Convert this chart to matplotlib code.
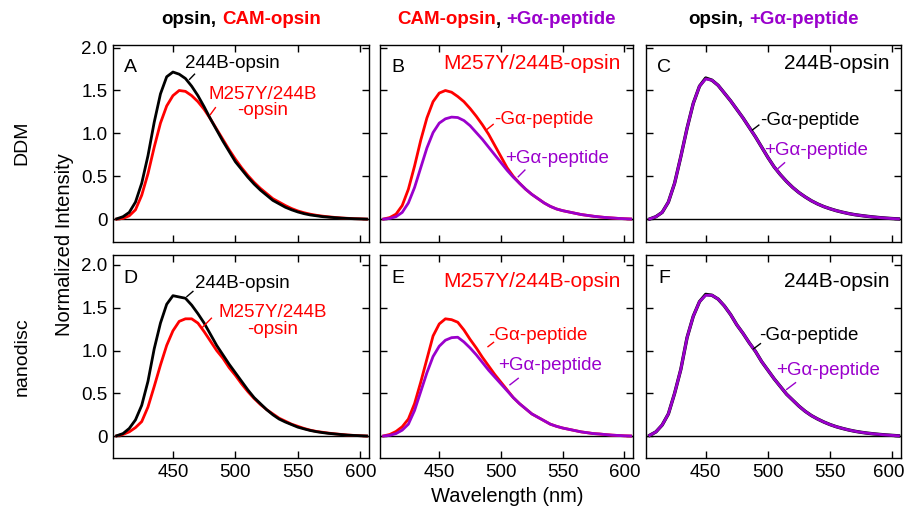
import numpy as np
import matplotlib
matplotlib.use("Agg")
import matplotlib.pyplot as plt
import matplotlib.transforms as mtransforms
from matplotlib.ticker import FixedLocator, FixedFormatter

plt.rcParams["font.family"] = ["Liberation Sans", "DejaVu Sans"]

RED = "#ff0000"
PURPLE = "#9a00cc"

# wavelength grid (nm) the spectra were read on
wavelength = np.arange(405, 606, 5)

# DDM, panel A
ddm_wt = [0.005, 0.03, 0.08, 0.20, 0.42, 0.74, 1.13, 1.46, 1.66, 1.715, 1.69, 1.64, 1.55, 1.44,
          1.31, 1.17, 1.04, 0.91, 0.79, 0.67, 0.58, 0.49, 0.41, 0.34, 0.28, 0.22, 0.18, 0.14, 0.11,
          0.085, 0.065, 0.05, 0.04, 0.03, 0.024, 0.018, 0.013, 0.009, 0.006, 0.004, 0.002]
ddm_cam = [0.002, 0.01, 0.04, 0.11, 0.28, 0.53, 0.84, 1.12, 1.32, 1.44, 1.50, 1.49, 1.44, 1.37,
           1.28, 1.17, 1.05, 0.93, 0.81, 0.70, 0.60, 0.51, 0.43, 0.36, 0.30, 0.24, 0.20, 0.16, 0.125,
           0.097, 0.076, 0.059, 0.046, 0.036, 0.028, 0.021, 0.015, 0.011, 0.007, 0.005, 0.002]
# DDM, panel B
ddm_cam_minus = [0.003, 0.02, 0.06, 0.16, 0.35, 0.62, 0.92, 1.18, 1.37, 1.47, 1.50, 1.48, 1.43, 1.37,
                 1.29, 1.20, 1.10, 0.99, 0.86, 0.73, 0.60, 0.50, 0.42, 0.35, 0.29, 0.24, 0.19, 0.15, 0.12,
                 0.10, 0.085, 0.07, 0.055, 0.045, 0.035, 0.027, 0.02, 0.015, 0.01, 0.006, 0.003]
ddm_cam_plus = [0.002, 0.01, 0.03, 0.08, 0.19, 0.37, 0.60, 0.83, 1.01, 1.12, 1.17, 1.19, 1.185, 1.15,
                1.09, 1.01, 0.93, 0.84, 0.75, 0.66, 0.57, 0.49, 0.42, 0.35, 0.29, 0.24, 0.19, 0.15, 0.12,
                0.10, 0.085, 0.07, 0.055, 0.045, 0.035, 0.027, 0.02, 0.015, 0.01, 0.006, 0.003]
# DDM, panel C
ddm_wt_minus = [0.003, 0.03, 0.08, 0.20, 0.42, 0.73, 1.06, 1.35, 1.55, 1.645, 1.62, 1.56, 1.47, 1.38,
                1.28, 1.18, 1.07, 0.96, 0.84, 0.72, 0.61, 0.52, 0.44, 0.37, 0.31, 0.26, 0.215, 0.178, 0.147,
                0.122, 0.10, 0.082, 0.066, 0.053, 0.043, 0.034, 0.026, 0.019, 0.013, 0.008, 0.004]
ddm_wt_plus = [0.003, 0.03, 0.08, 0.20, 0.42, 0.73, 1.06, 1.35, 1.55, 1.635, 1.62, 1.56, 1.47, 1.38,
               1.28, 1.18, 1.07, 0.96, 0.84, 0.72, 0.61, 0.52, 0.44, 0.37, 0.31, 0.26, 0.215, 0.178, 0.147,
               0.122, 0.10, 0.082, 0.066, 0.053, 0.043, 0.034, 0.026, 0.019, 0.013, 0.008, 0.004]
# nanodisc, panel D
nd_wt = [0.005, 0.03, 0.09, 0.19, 0.36, 0.64, 1.02, 1.32, 1.54, 1.64, 1.625, 1.61, 1.53, 1.43,
         1.32, 1.19, 1.06, 0.95, 0.84, 0.74, 0.64, 0.54, 0.45, 0.38, 0.31, 0.25, 0.20, 0.165, 0.135,
         0.105, 0.085, 0.066, 0.052, 0.041, 0.032, 0.025, 0.018, 0.012, 0.008, 0.005, 0.002]
nd_cam = [0.003, 0.02, 0.05, 0.10, 0.17, 0.34, 0.58, 0.83, 1.06, 1.23, 1.34, 1.37, 1.37, 1.32,
          1.22, 1.11, 1.00, 0.91, 0.80, 0.71, 0.61, 0.52, 0.44, 0.37, 0.31, 0.26, 0.21, 0.175, 0.14,
          0.115, 0.09, 0.07, 0.055, 0.045, 0.035, 0.027, 0.02, 0.013, 0.009, 0.005, 0.002]
# nanodisc, panel E
nd_cam_minus = [0.003, 0.02, 0.055, 0.11, 0.20, 0.38, 0.63, 0.90, 1.17, 1.31, 1.37, 1.36, 1.33, 1.24,
                1.13, 1.03, 0.92, 0.82, 0.72, 0.63, 0.54, 0.45, 0.38, 0.32, 0.26, 0.22, 0.18, 0.14, 0.115,
                0.095, 0.08, 0.065, 0.05, 0.04, 0.03, 0.025, 0.018, 0.012, 0.008, 0.004, 0.002]
nd_cam_plus = [0.002, 0.01, 0.03, 0.07, 0.14, 0.30, 0.52, 0.74, 0.93, 1.05, 1.12, 1.15, 1.155, 1.10,
               1.03, 0.95, 0.86, 0.77, 0.69, 0.61, 0.53, 0.45, 0.38, 0.32, 0.26, 0.22, 0.18, 0.14, 0.115,
               0.095, 0.08, 0.065, 0.05, 0.04, 0.03, 0.025, 0.018, 0.012, 0.008, 0.004, 0.002]
# nanodisc, panel F
nd_wt_minus = [0.01, 0.05, 0.13, 0.26, 0.50, 0.78, 1.15, 1.40, 1.57, 1.655, 1.645, 1.60, 1.52, 1.42,
               1.30, 1.20, 1.09, 0.99, 0.87, 0.77, 0.67, 0.58, 0.49, 0.42, 0.35, 0.29, 0.24, 0.20, 0.165,
               0.135, 0.11, 0.09, 0.072, 0.057, 0.045, 0.035, 0.027, 0.02, 0.014, 0.009, 0.004]
nd_wt_plus = [0.01, 0.05, 0.13, 0.26, 0.50, 0.78, 1.15, 1.40, 1.57, 1.645, 1.645, 1.60, 1.52, 1.42,
              1.30, 1.20, 1.09, 0.99, 0.87, 0.77, 0.67, 0.58, 0.49, 0.42, 0.35, 0.29, 0.24, 0.20, 0.165,
              0.135, 0.11, 0.09, 0.072, 0.057, 0.045, 0.035, 0.027, 0.02, 0.014, 0.009, 0.004]

y_ticks = [0, 0.5, 1.0, 1.5, 2.0]
y_tick_labels = ["0", "0.5", "1.0", "1.5", "2.0"]
x_ticks = [450, 500, 550, 600]

W, H = 906, 508
fig = plt.figure(figsize=(W / 100, H / 100), dpi=100)

col_px = [(113, 369), (380, 633), (646, 901)]
row_px = [(45, 242, (-0.265, 2.03)), (255, 458, (-0.255, 2.115))]

axes = []
for r, (top, bot, ylim) in enumerate(row_px):
    row = []
    for c, (l, rt) in enumerate(col_px):
        ax = fig.add_axes([l / W, 1 - bot / H, (rt - l) / W, (bot - top) / H])
        ax.set_xlim(402, 607)
        ax.set_ylim(*ylim)
        ax.axhline(0, color="k", lw=1.0, zorder=1)
        ax.xaxis.set_major_locator(FixedLocator(x_ticks))
        ax.yaxis.set_major_locator(FixedLocator(y_ticks))
        ax.yaxis.set_major_formatter(FixedFormatter(y_tick_labels))
        ax.tick_params(direction="in", length=5, width=1, top=True, right=True,
                       labelsize=13.5, pad=4)
        if c > 0:
            ax.tick_params(labelleft=False)
        if r == 0:
            ax.tick_params(labelbottom=False)
        for s in ax.spines.values():
            s.set_linewidth(1.0)
        row.append(ax)
    axes.append(row)

LW = 2.0
(axA, axB, axC), (axD, axE, axF) = axes

axA.plot(wavelength, ddm_cam, color=RED, lw=LW)
axA.plot(wavelength, ddm_wt, color="k", lw=LW)
axB.plot(wavelength, ddm_cam_minus, color=RED, lw=LW)
axB.plot(wavelength, ddm_cam_plus, color=PURPLE, lw=LW)
axC.plot(wavelength, ddm_wt_minus, color="k", lw=LW + 0.4)
axC.plot(wavelength, ddm_wt_plus, color=PURPLE, lw=LW)
axD.plot(wavelength, nd_cam, color=RED, lw=LW)
axD.plot(wavelength, nd_wt, color="k", lw=LW)
axE.plot(wavelength, nd_cam_minus, color=RED, lw=LW)
axE.plot(wavelength, nd_cam_plus, color=PURPLE, lw=LW)
axF.plot(wavelength, nd_wt_minus, color="k", lw=LW + 0.4)
axF.plot(wavelength, nd_wt_plus, color=PURPLE, lw=LW)

FS = 13.5
FS_HEAD = 15


def label(ax, x, y, s, color, lead=None, **kw):
    ax.text(x, y, s, color=color, fontsize=kw.pop("fontsize", FS), va="center", **kw)
    if lead is not None:
        ax.plot([lead[0], lead[2]], [lead[1], lead[3]], color=color, lw=1.0)


# panel letters sit a fixed distance below the top edge
for ax, letter in zip([axA, axB, axC, axD, axE, axF], "ABCDEF"):
    ax.text(0.07, 0.885, letter, fontsize=14, ha="center", va="center", transform=ax.transAxes)

label(axA, 460, 1.82, "244B-opsin", "k", lead=(463.3, 1.63, 467.3, 1.69), ha="left")
label(axA, 522, 1.36, "M257Y/244B\n-opsin", RED, lead=(480, 1.22, 484, 1.30),
      ha="center", linespacing=0.95)
label(axB, 597, 1.82, "M257Y/244B-opsin", RED, ha="right", fontsize=FS_HEAD)
label(axB, 494.5, 1.165, "-G\u03b1-peptide", RED, lead=(489, 1.05, 493.7, 1.105), ha="left")
label(axB, 503.3, 0.71, "+G\u03b1-peptide", PURPLE, lead=(514, 0.495, 519.4, 0.573), ha="left")
label(axC, 597.6, 1.82, "244B-opsin", "k", ha="right", fontsize=FS_HEAD)
label(axC, 494, 1.155, "-G\u03b1-peptide", "k", lead=(487.5, 1.04, 492.7, 1.097), ha="left")
label(axC, 497.3, 0.80, "+G\u03b1-peptide", PURPLE, lead=(506.7, 0.573, 513.4, 0.658), ha="left")

label(axD, 467.4, 1.78, "244B-opsin", "k", lead=(461.2, 1.63, 466, 1.69), ha="left")
label(axD, 530, 1.345, "M257Y/244B\n-opsin", RED, lead=(473.6, 1.27, 480.8, 1.377),
      ha="center", linespacing=0.95)
label(axE, 597, 1.81, "M257Y/244B-opsin", RED, ha="right", fontsize=FS_HEAD)
label(axE, 490, 1.18, "-G\u03b1-peptide", RED, lead=(489.5, 1.045, 494, 1.095), ha="left")
label(axE, 498, 0.82, "+G\u03b1-peptide", PURPLE, lead=(507.3, 0.60, 514, 0.675), ha="left")
label(axF, 597.6, 1.81, "244B-opsin", "k", ha="right", fontsize=FS_HEAD)
label(axF, 493, 1.17, "-G\u03b1-peptide", "k", lead=(488.5, 1.02, 494, 1.08), ha="left")
label(axF, 506.4, 0.764, "+G\u03b1-peptide", PURPLE, lead=(515.1, 0.546, 522.2, 0.624), ha="left")

# column titles made of coloured pieces
titles = [
    [("opsin,", "k", True), ("CAM-opsin", RED, False)],
    [("CAM-opsin", RED, False), (",", "k", True), ("+G\u03b1-peptide", PURPLE, False)],
    [("opsin,", "k", True), ("+G\u03b1-peptide", PURPLE, False)],
]
TITLE_FS = 13.5
fig.canvas.draw()
renderer = fig.canvas.get_renderer()
gap = 0.278 * TITLE_FS * 100 / 72
for (l, rt), parts in zip(col_px, titles):
    texts = [fig.text(0, 1 - 20 / H, s, color=c, fontsize=TITLE_FS, fontweight="bold",
                      ha="left", va="center") for s, c, _ in parts]
    widths = [t.get_window_extent(renderer).width + (gap if sp else 0)
              for t, (_, _, sp) in zip(texts, parts)]
    x = (l + rt) / 2 - sum(widths) / 2
    for t, w in zip(texts, widths):
        t.set_x(x / W)
        x += w

# the last tick label in F is nudged left so it stays inside the figure
last = axF.xaxis.get_major_ticks()[-1].label1
last.set_transform(last.get_transform() +
                   mtransforms.ScaledTranslation(-4 / 100, 0, fig.dpi_scale_trans))

fig.text(22 / W, 1 - 143 / H, "DDM", rotation=90, fontsize=14, ha="center", va="center")
fig.text(22 / W, 1 - 357 / H, "nanodisc", rotation=90, fontsize=14, ha="center", va="center")
fig.text(64 / W, 1 - 245 / H, "Normalized Intensity", rotation=90, fontsize=14.5,
         ha="center", va="center")
fig.text(507 / W, 1 - 496 / H, "Wavelength (nm)", fontsize=14.5, ha="center", va="center")

fig.savefig("out.png", dpi=100)
